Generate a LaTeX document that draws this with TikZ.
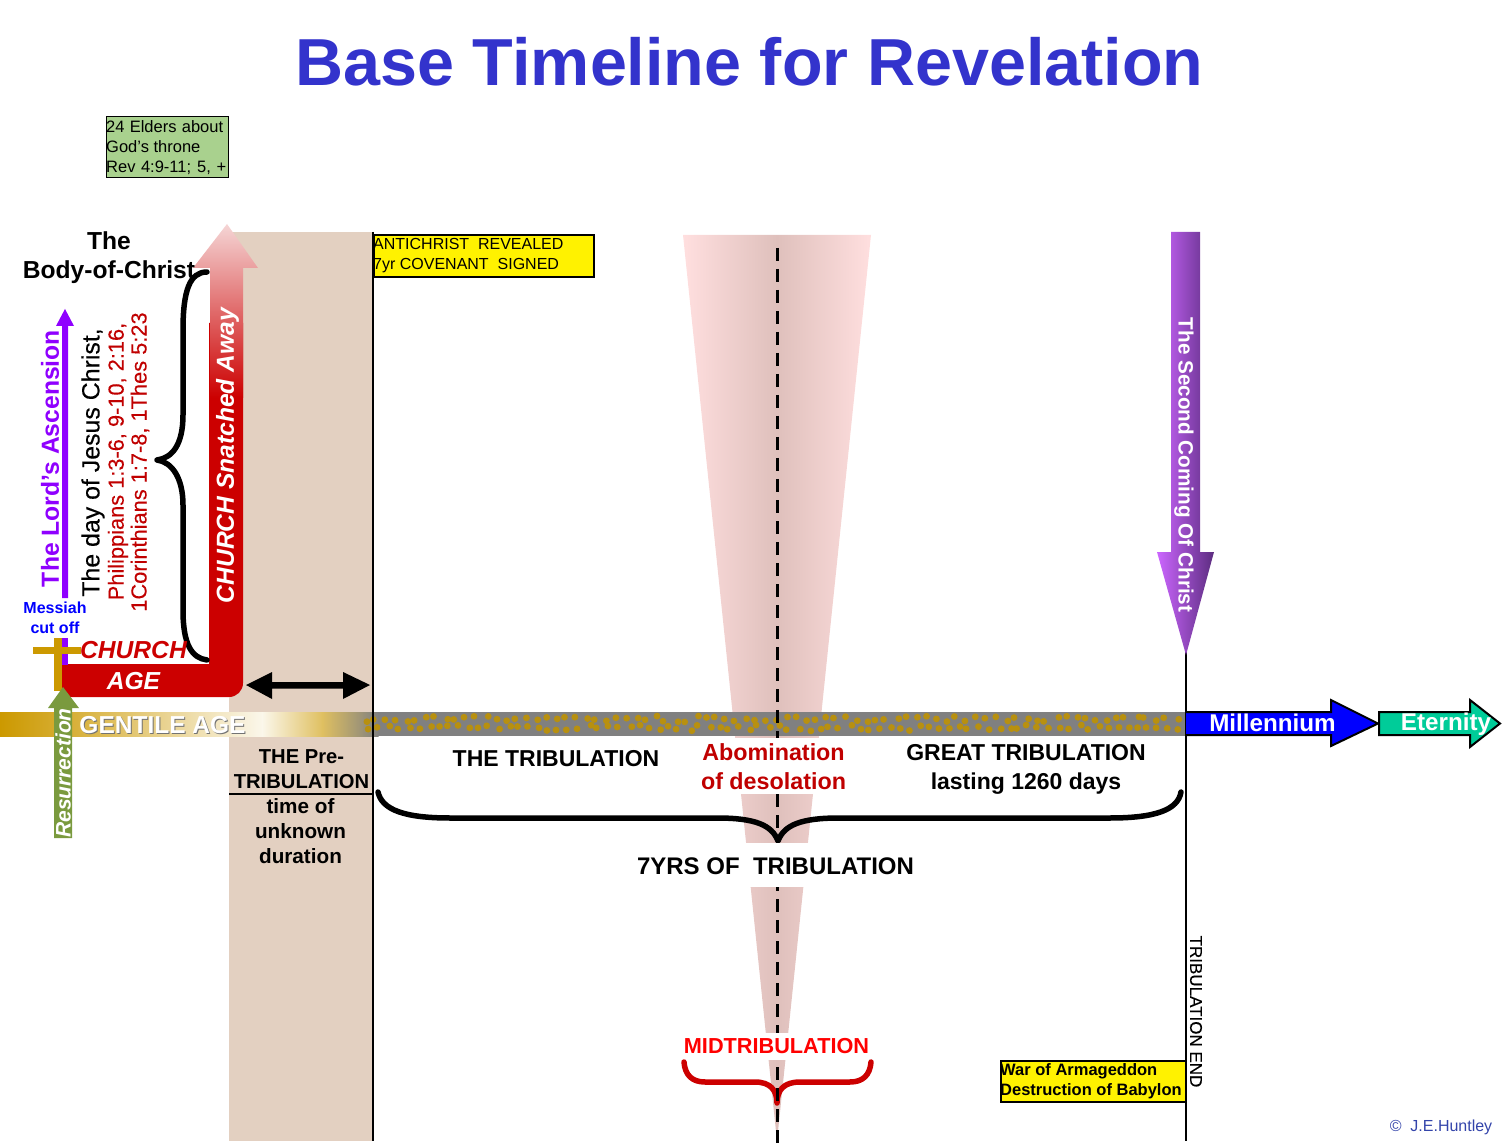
\documentclass[tikz,border=0pt]{standalone}
\usepackage{fontspec}
\setmainfont{Liberation Sans}
\newfontfamily\medfont[FakeBold=0.2]{Liberation Sans}
\definecolor{titleblue}{HTML}{3333CC}
\definecolor{beige}{HTML}{E3D0C1}
\definecolor{churchred}{HTML}{CC0000}
\definecolor{darkred}{HTML}{C00000}
\definecolor{gold}{HTML}{CC9900}
\definecolor{dotgold}{HTML}{B8900F}
\definecolor{barbgray}{HTML}{808080}
\definecolor{ascpurple}{HTML}{8F00FF}
\definecolor{resgreen}{HTML}{7A9A3E}
\definecolor{boxgreen}{HTML}{A9D18E}
\definecolor{coneedge}{HTML}{FFDFDF}
\definecolor{conemid}{HTML}{DFC0BC}
\definecolor{eterngreen}{HTML}{00CC99}
\definecolor{copyblue}{HTML}{3344AA}
\definecolor{arrowtop}{HTML}{F5D5D5}
\definecolor{arrowmid}{HTML}{E29A9A}
\definecolor{secleft}{HTML}{CC66FF}
\definecolor{secright}{HTML}{5C2D80}
\newcommand{\fsz}[2]{\fontsize{#1}{#2}\selectfont}
\tikzset{
  lbl/.style={inner sep=0pt,align=center},
  bracepen/.style={line width=5.5pt,line cap=round,line join=round},
  notebox/.style={draw=black,anchor=north west,inner sep=0pt},
  notetext/.style={inner sep=0pt,anchor=west,align=left},
}
\begin{document}
\begin{tikzpicture}[x=1pt,y=-1pt]
\useasboundingbox (0,0) rectangle (1508,1147);
% column
\fill[beige] (229,232) rectangle (373,1141);
% cone
\shade[left color=coneedge,right color=coneedge,middle color=conemid] (683,235) -- (871,235) -- (777,1141) -- cycle;
% gentile bar
\shade[left color=gold,right color=gold!75!white] (0,712) rectangle (80.5,736);
\shade[left color=gold!75!white,right color=gold!30!white] (80,712) rectangle (200.5,736);
\shade[left color=gold!30!white,right color=white!92!gold] (200,712) rectangle (262.5,736);
\shade[left color=white!92!gold,right color=gold!62!white] (262,712) rectangle (322.5,736);
\shade[left color=gold!62!white,right color=barbgray] (322,712) rectangle (378.5,736);
\fill[barbgray] (378,712) rectangle (1186,736);
\pgfmathsetseed{11}
\foreach \i in {0,...,81}{
  \pgfmathsetmacro{\xa}{363+\i*10+rnd*6}
  \pgfmathsetmacro{\ya}{716+rnd*6}
  \pgfmathsetmacro{\xb}{366+\i*10+rnd*6}
  \pgfmathsetmacro{\yb}{725+rnd*6}
  \fill[dotgold] (\xa,\ya) circle (3.4pt);
  \fill[dotgold] (\xb,\yb) circle (3.4pt);
}
% braces behind the dashes
\draw[bracepen] (378,792) .. controls (382,810) and (405,818) .. (450,818) -- (717,818) .. controls (755,818) and (772,825) .. (778,841) .. controls (784,825) and (801,818) .. (839,818) -- (1110,818) .. controls (1155,818) and (1178,810) .. (1181,792);
\draw[bracepen,churchred] (684,1062) .. controls (685,1075) and (692,1082) .. (705,1082) -- (755,1082) .. controls (770,1082) and (777,1090) .. (777,1103) .. controls (777,1090) and (784,1082) .. (800,1082) -- (850,1082) .. controls (863,1082) and (870,1075) .. (871,1062);
% dashes
\draw[line width=3pt,dash pattern=on 13pt off 8pt] (777.5,248) -- (777.5,1143);
% masks
\fill[white] (690,737.5) rectangle (860,794);
\fill[white] (690,843) rectangle (860,887);
\fill[white] (690,1033) rectangle (860,1060);
% vertical lines
\draw[line width=2pt] (373,232) -- (373,1141);
\draw[line width=2pt] (1186,650) -- (1186,1141);
\draw[line width=2pt] (229,794) -- (373,794);
% church L
\fill[churchred] (62,664) -- (209,664) -- (209,323) -- (243,323) -- (243,683) arc[start angle=0,end angle=90,radius=14] -- (62,697) -- cycle;
\shade[top color=arrowtop,middle color=arrowmid,bottom color=churchred] (227,224) -- (258,268) -- (243,268) -- (243,398) -- (210,398) -- (210,268) -- (193,268) -- cycle;
% black brace
\draw[bracepen] (207,272) .. controls (190,272) and (183,290) .. (183,330) -- (183,415) .. controls (183,445) and (172,458) .. (157,460) .. controls (172,462) and (183,478) .. (183,505) -- (183,610) .. controls (183,645) and (192,658) .. (207,660);
% ascension arrow
\fill[ascpurple] (65,309) -- (74,326) -- (68,326) -- (68,598) -- (62,598) -- (62,326) -- (56,326) -- cycle;
\fill[ascpurple] (62,638) rectangle (68,665);
% cross
\fill[gold] (54,638) rectangle (62,691);
\fill[gold] (33,647) rectangle (81,654);
% resurrection arrow
\fill[resgreen] (63,687) -- (79,708) -- (72,708) -- (72,838) -- (54,838) -- (54,708) -- (48,708) -- cycle;
% double arrow
\fill[black] (246,685) -- (272,672) -- (272,682) -- (343,682) -- (343,672) -- (370,685) -- (343,699) -- (343,688.5) -- (272,688.5) -- (272,699) -- cycle;
% second coming arrow
\shade[left color=secleft,right color=secright] (1171,232) -- (1200,232) -- (1200,552) -- (1214,552) -- (1186,655) -- (1157,552) -- (1171,552) -- cycle;
% millennium, eternity
\draw[line width=2pt,fill=blue] (1186,712) -- (1331,712) -- (1331,700) -- (1378,723.5) -- (1331,746) -- (1331,735) -- (1186,735);
\draw[line width=2pt,fill=eterngreen] (1379,712) -- (1470,712) -- (1470,700) -- (1500,723.5) -- (1470,747) -- (1470,735) -- (1379,735) -- cycle;
% note boxes
\node[notebox,fill=boxgreen,minimum width=121.5pt,minimum height=61.5pt] (eldersbox) at (106,116) {};
\node[notetext,font={\fsz{16.5}{20}}] (elders) at (106,148) {\makebox[117pt][s]{24 Elders about}\\God’s throne\\\makebox[120pt][s]{Rev 4:9-11; 5, +}};
\node[notebox,fill=yellow,line width=1.8pt,minimum width=220pt,minimum height=42pt] (antibox) at (373,234) {};
\node[notetext,font={\fsz{16}{19.5}}] (antichrist) at (373,255.5) {ANTICHRIST\ \ REVEALED\\7yr COVENANT\ \ SIGNED};
\node[notebox,fill=yellow,line width=1.8pt,minimum width=185pt,minimum height=41pt] (warbox) at (1000,1060) {};
\node[notetext,font={\bfseries\fsz{16.5}{20}}] (war) at (1000,1081) {War of Armageddon\\Destruction of Babylon};
% labels
\node[lbl,text=titleblue,font={\bfseries\fsz{66.5}{70}}] (title) at (749.5,62) {Base Timeline for Revelation};
\node[lbl,font={\bfseries\fsz{24.6}{29.5}}] (body) at (109,257.5) {The\\Body-of-Christ};
\node[lbl,rotate=90,text=ascpurple,font={\bfseries\fsz{24.7}{30}}] (ascension) at (50,458.5) {The Lord’s Ascension};
\node[inner sep=0pt,rotate=90,font={\medfont\fsz{24.9}{30}}] (dayof) at (93,462.5) {The day of Jesus Christ,};
\node[inner sep=0pt,rotate=90,text=darkred,font={\medfont\fsz{21.8}{26}}] (phil) at (118,461.5) {Philippians 1:3-6, 9-10, 2:16,};
\node[inner sep=0pt,rotate=90,text=darkred,font={\medfont\fsz{21.8}{26}}] (cor) at (140,462) {1Corinthians 1:7-8, 1Thes 5:23};
\node[lbl,rotate=90,text=white,font={\bfseries\itshape\fsz{24.6}{30}}] (snatched) at (227.5,455.5) {CHURCH Snatched Away};
\node[lbl,text=blue,font={\bfseries\fsz{16}{20}}] (messiah) at (55,618) {Messiah\\cut off};
\node[lbl,text=churchred,font={\bfseries\itshape\fsz{24.6}{30}}] (church) at (133.5,650) {CHURCH};
\node[lbl,text=white,font={\bfseries\itshape\fsz{24.6}{30}}] (age) at (133.5,681) {AGE};
\node[lbl,text=black!55,font={\bfseries\fsz{24.5}{30}}] (gentileshadow) at (163.5,726.5) {GENTILE AGE};
\node[lbl,text=white,font={\bfseries\fsz{24.5}{30}}] (gentile) at (162.5,725) {GENTILE AGE};
\node[lbl,rotate=90,text=white,font={\bfseries\itshape\fsz{21}{25}}] (resurrection) at (63,773) {Resurrection};
\node[lbl,font={\bfseries\fsz{20.2}{25}}] (pretrib) at (301.5,769.5) {THE Pre-\\TRIBULATION};
\node[lbl,font={\bfseries\fsz{20.7}{25}}] (unknown) at (300.5,831) {time of\\unknown\\duration};
\node[lbl,font={\bfseries\fsz{23}{29}}] (thetrib) at (556,758.5) {THE TRIBULATION};
\node[lbl,text=darkred,font={\bfseries\fsz{23.3}{29}}] (abom) at (773.5,766.5) {Abomination\\of desolation};
\node[lbl,font={\bfseries\fsz{23}{29}}] (great) at (1026,769) {GREAT TRIBULATION\\lasting 1260 days};
\node[lbl,font={\bfseries\fsz{24}{30}}] (seven) at (775.5,866) {7YRS OF\ \ TRIBULATION};
\node[lbl,text=red,font={\bfseries\fsz{21.7}{26}}] (mid) at (776.5,1046) {MIDTRIBULATION};
\node[lbl,text=white,font={\bfseries\fsz{24.2}{30}}] (mill) at (1272.5,723) {Millennium};
\node[lbl,text=white,font={\bfseries\fsz{24.2}{30}}] (etern) at (1446,724.5) {Eternity};
\node[lbl,rotate=-90,text=white,font={\bfseries\fsz{20.7}{25}}] (second) at (1184,465) {The Second Coming Of Christ};
\node[inner sep=0pt,rotate=-90,font={\medfont\fsz{17}{20}}] (tribend) at (1196,1011.5) {TRIBULATION END};
\node[inner sep=0pt,text=copyblue,font={\fsz{16}{20}}] (copy) at (1441,1127.5) {©\ \ J.E.Huntley};
\end{tikzpicture}
\end{document}
